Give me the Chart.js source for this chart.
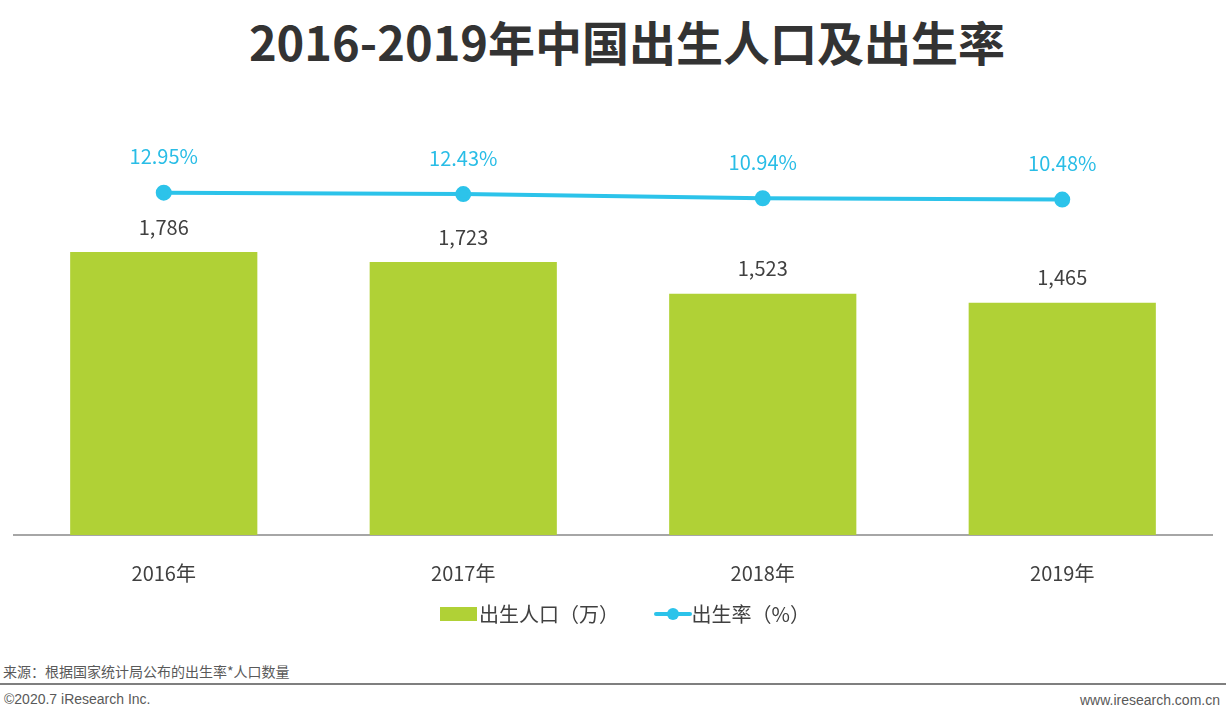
<!DOCTYPE html>
<html>
<head>
<meta charset="utf-8">
<script src="https://cdn.jsdelivr.net/npm/chart.js@4"></script>
<style>
  body { margin: 0; width: 1230px; height: 724px; background: #fff; position: relative; overflow: hidden;
         font-family: "Noto Sans CJK SC", "Noto Sans", sans-serif; }
  #title { position: absolute; top: 6px; left: 0; width: 1254px; text-align: center;
           font-size: 47px; font-weight: bold; color: #333; }
  #wrap { position: absolute; left: 0; top: 0; width: 1230px; height: 603px; }
  #legend { position: absolute; top: 596px; left: 10px; width: 1230px; text-align: center; font-size: 20px; color: #404040; }
  .lg { display: inline-block; vertical-align: middle; }
  #src { position: absolute; left: 3px; top: 661px; font-size: 14px; color: #595959; }
  #rule { position: absolute; left: 0; top: 683px; width: 1226px; height: 2px; background: #7f7f7f; }
  #copy { position: absolute; left: 4px; top: 691px; font-size: 14px; color: #595959; font-family: "Liberation Sans", Arial, sans-serif; }
  #web { position: absolute; right: 10px; top: 692px; font-size: 14px; color: #595959; font-family: "Liberation Sans", Arial, sans-serif; }
</style>
</head>
<body>
<div id="title">2016-2019年中国出生人口及出生率</div>
<div id="wrap"><canvas id="graphe" width="1230" height="603"></canvas></div>
<div id="legend">
  <span class="lg" style="width:37px;height:14px;background:#b0d136;"></span><span class="lg" style="margin-left:2px;">出生人口（万）</span>
  <span class="lg" style="margin-left:30px;position:relative;width:38px;height:14px;">
    <span style="position:absolute;left:0;top:5px;width:38px;height:4px;background:#2cc3ea;border-radius:2px;"></span>
    <span style="position:absolute;left:13px;top:1px;width:12px;height:12px;background:#2cc3ea;border-radius:50%;"></span>
  </span><span class="lg">出生率（%）</span>
</div>
<div id="src">来源：根据国家统计局公布的出生率*人口数量</div>
<div id="rule"></div>
<div id="copy">©2020.7 iResearch Inc.</div>
<div id="web">www.iresearch.com.cn</div>
<script>
const annees = ["2016年", "2017年", "2018年", "2019年"];
const naissances = [1786, 1723, 1523, 1465];
const taux = [12.95, 12.43, 10.94, 10.48];

//Etiquettes de valeurs
const etiquettes = {
    id: "etiquettes",
    afterDatasetsDraw(chart) {
        const ctx = chart.ctx;
        ctx.save();
        ctx.textAlign = "center";
        ctx.textBaseline = "middle";
        ctx.font = '20px "Noto Sans CJK SC", "Noto Sans", sans-serif';
        chart.getDatasetMeta(1).data.forEach((bar, i) => {
            ctx.fillStyle = "#404040";
            ctx.fillText(naissances[i].toLocaleString("en-US"), bar.x, bar.y - 25);
        });
        chart.getDatasetMeta(0).data.forEach((pt, i) => {
            ctx.fillStyle = "#29bde6";
            ctx.fillText(taux[i].toFixed(2) + "%", pt.x, pt.y - 36);
        });
        ctx.restore();
    }
};

new Chart(document.getElementById("graphe"), {
    data: {
        labels: annees,
        datasets: [
            {
                type: "line",
                label: "出生率（%）",
                data: taux,
                yAxisID: "y1",
                borderColor: "#2cc3ea",
                backgroundColor: "#2cc3ea",
                borderWidth: 4,
                pointRadius: 6,
                pointHoverRadius: 6,
                order: 0
            },
            {
                type: "bar",
                label: "出生人口（万）",
                data: naissances,
                yAxisID: "y",
                backgroundColor: "#b0d136",
                categoryPercentage: 1,
                barPercentage: 0.625,
                order: 1
            }
        ]
    },
    options: {
        responsive: false,
        animation: false,
        plugins: { legend: { display: false }, tooltip: { enabled: false } },
        layout: { padding: { left: 14, right: 18, top: 120, bottom: 0 } },
        scales: {
            x: {
                grid: { display: false },
                border: { color: "#a6a6a6", width: 2 },
                ticks: { color: "#404040", maxRotation: 0, font: { size: 20, family: '"Noto Sans CJK SC", "Noto Sans", sans-serif' }, padding: 18 }
            },
            y: { display: false, min: 0, max: 2619 },
            y1: { display: false, min: -108.9, max: 38.8 }
        }
    },
    plugins: [etiquettes]
});
</script>
</body>
</html>
